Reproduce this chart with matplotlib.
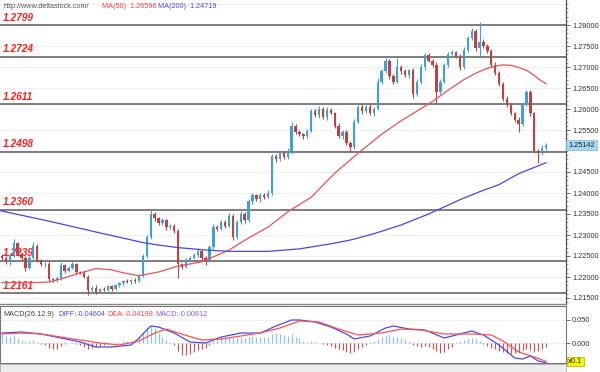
import matplotlib
matplotlib.use('Agg')
import matplotlib.pyplot as plt
import numpy as np
from matplotlib.ticker import FixedLocator, MultipleLocator, FormatStrFormatter
from matplotlib.transforms import blended_transform_factory
from matplotlib.patches import Rectangle

# ---------------- data ----------------
first_open = 1.2250
closes = [
    1.2245, 1.2235, 1.2250, 1.2280, 1.2255, 1.2245, 1.2222, 1.2245, 1.2275, 1.2240,
    1.2230, 1.2232, 1.2195, 1.2192, 1.2198, 1.2228, 1.2215, 1.2222, 1.2230, 1.2212,
    1.2210, 1.2200, 1.2168, 1.2175, 1.2165, 1.2172, 1.2170, 1.2178, 1.2172, 1.2180,
    1.2185, 1.2190, 1.2188, 1.2193, 1.2190, 1.2205, 1.2250, 1.2295, 1.2350, 1.2340,
    1.2328, 1.2335, 1.2318, 1.2322, 1.2310, 1.2230, 1.2225, 1.2240, 1.2245, 1.2252,
    1.2262, 1.2245, 1.2240, 1.2272, 1.2320, 1.2315, 1.2330, 1.2322, 1.2345, 1.2295,
    1.2330, 1.2350, 1.2335, 1.2380, 1.2395, 1.2385, 1.2395, 1.2390, 1.2400, 1.2488,
    1.2480, 1.2495, 1.2485, 1.2500, 1.2560, 1.2545, 1.2540, 1.2535, 1.2548, 1.2595,
    1.2585, 1.2600, 1.2580, 1.2598, 1.2590, 1.2560, 1.2535, 1.2545, 1.2520, 1.2510,
    1.2570, 1.2605, 1.2595, 1.2605, 1.2590, 1.2600, 1.2665, 1.2690, 1.2715, 1.2678,
    1.2665, 1.2700, 1.2690, 1.2680, 1.2692, 1.2635, 1.2665, 1.2700, 1.2728, 1.2715,
    1.2705, 1.2640, 1.2665, 1.2705, 1.2730, 1.2735, 1.2725, 1.2700, 1.2740, 1.2770,
    1.2785, 1.2745, 1.2760, 1.2750, 1.2738, 1.2705, 1.2685, 1.2660, 1.2625, 1.2610,
    1.2590, 1.2575, 1.2565, 1.2610, 1.2640, 1.2590, 1.2500, 1.2495, 1.2508, 1.25142,
]
up_wick = [  # pips
    4, 5, 6, 10, 3, 4, 5, 6, 8, 3,
    4, 3, 5, 3, 4, 8, 3, 5, 7, 4,
    3, 5, 4, 3, 5, 3, 4, 3, 4, 3,
    4, 3, 5, 3, 4, 3, 5, 6, 10, 5,
    4, 6, 3, 5, 4, 5, 3, 6, 4, 5,
    6, 3, 4, 5, 6, 4, 6, 5, 7, 6,
    5, 7, 4, 6, 5, 3, 5, 4, 6, 5,
    6, 5, 4, 6, 8, 5, 6, 4, 5, 6,
    5, 7, 4, 6, 5, 4, 6, 5, 4, 5,
    6, 5, 7, 4, 6, 5, 8, 6, 7, 5,
    6, 22, 5, 6, 4, 5, 7, 6, 5, 6,
    5, 6, 7, 5, 6, 5, 4, 6, 7, 5,
    8, 6, 47, 6, 5, 4, 6, 5, 4, 5,
    5, 4, 6, 4, 5, 6, 4, 5, 6, 5,
]
dn_wick = [
    5, 4, 6, 3, 5, 4, 7, 4, 3, 5,
    4, 6, 5, 4, 3, 5, 6, 4, 3, 5,
    4, 3, 11, 4, 5, 3, 4, 3, 5, 4,
    3, 4, 3, 5, 4, 3, 5, 4, 5, 6,
    5, 4, 6, 3, 5, 32, 6, 4, 5, 3,
    4, 5, 12, 4, 5, 6, 4, 5, 3, 6,
    5, 4, 6, 3, 5, 4, 6, 5, 3, 5,
    6, 4, 5, 3, 6, 5, 4, 6, 5, 3,
    5, 6, 4, 5, 3, 5, 4, 6, 5, 13,
    5, 4, 6, 5, 4, 6, 3, 5, 4, 6,
    5, 4, 6, 3, 5, 9, 4, 5, 6, 4,
    5, 26, 5, 4, 6, 5, 4, 6, 5, 4,
    5, 6, 24, 4, 5, 6, 4, 5, 6, 5,
    4, 6, 20, 5, 4, 6, 5, 24, 4, 5,
]

ma50_idx = [0, 7, 12, 16, 20, 24, 28, 31, 35, 40, 45, 51, 54, 58, 63, 68, 73, 79, 85, 91,
            97, 102, 106, 110, 114, 118, 121, 124, 126, 128, 130, 132, 134, 136, 137, 139]
ma50_val = [1.2187, 1.2186, 1.2188, 1.2198, 1.2210, 1.2220, 1.2217, 1.2210, 1.2203, 1.2212,
            1.2226, 1.2236, 1.2248, 1.2264, 1.2293, 1.2319, 1.2355, 1.2390, 1.2447, 1.2495,
            1.2540, 1.2572, 1.2595, 1.2618, 1.2645, 1.2670, 1.2685, 1.2697, 1.2702, 1.2705,
            1.2704, 1.2699, 1.2692, 1.2680, 1.2672, 1.2660]
ma200_idx = [-0.5, 12, 25, 36, 40, 45, 51, 58, 68, 76, 84, 89, 95, 102, 109, 117, 122,
             127, 132, 136, 139]
ma200_val = [1.2358, 1.2333, 1.2305, 1.2282, 1.2276, 1.2270, 1.2265, 1.2261, 1.2261, 1.2267,
             1.2279, 1.2288, 1.2303, 1.2324, 1.2350, 1.2384, 1.2403, 1.2420, 1.2446, 1.2461,
             1.2472]

diff_idx = [0, 5, 10, 15, 20, 24, 28, 33, 35, 38, 40, 44, 48, 52, 56, 61, 66, 70, 74, 76,
            80, 84, 88, 90, 94, 98, 100, 104, 108, 113, 116, 120, 123, 127, 131, 133, 135, 137, 139]
diff_val = [0.0217, 0.0239, 0.0196, 0.0109, 0.0022, -0.0087, -0.0087, -0.0043, 0.0109, 0.0370,
            0.0348, 0.0217, 0.0022, 0.0000, 0.0130, 0.0217, 0.0217, 0.0370, 0.0500, 0.0500,
            0.0457, 0.0348, 0.0196, 0.0087, 0.0152, 0.0326, 0.0370, 0.0304, 0.0283, 0.0109,
            0.0174, 0.0261, 0.0174, -0.0043, -0.0326, -0.0348, -0.0283, -0.0391, -0.0430]
dea_idx = [0, 5, 10, 15, 20, 25, 30, 35, 39, 42, 45, 51, 56, 61, 66, 71, 76, 81, 86, 91,
           97, 102, 107, 113, 120, 125, 128, 132, 136, 139]
dea_val = [0.0196, 0.0217, 0.0196, 0.0130, 0.0065, 0.0000, -0.0043, 0.0043, 0.0217, 0.0304,
           0.0217, 0.0065, 0.0087, 0.0152, 0.0217, 0.0326, 0.0478, 0.0457, 0.0304, 0.0174,
           0.0217, 0.0304, 0.0283, 0.0196, 0.0196, 0.0174, 0.0043, -0.0196, -0.0304, -0.0400]
macd_hist = [
    0.020, 0.015, 0.012, 0.018, 0.010, 0.006, 0.003, 0.004, 0.006, 0.002,
    -0.002, -0.004, -0.010, -0.014, -0.012, -0.006, -0.002, 0.001, 0.002, -0.002,
    -0.004, -0.008, -0.012, -0.010, -0.008, -0.006, -0.004, -0.003, 0.001, 0.002,
    0.003, 0.004, 0.005, 0.005, 0.006, 0.012, 0.024, 0.034, 0.040, 0.032,
    0.022, 0.012, 0.006, 0.002, -0.004, -0.018, -0.026, -0.027, -0.024, -0.020,
    -0.015, -0.012, -0.010, -0.004, 0.006, 0.010, 0.012, 0.012, 0.014, 0.010,
    0.010, 0.012, 0.010, 0.014, 0.016, 0.014, 0.013, 0.012, 0.012, 0.020,
    0.022, 0.020, 0.018, 0.016, 0.020, 0.014, 0.010, 0.004, 0.003, 0.004,
    0.002, 0.000, -0.002, -0.004, -0.006, -0.010, -0.014, -0.016, -0.020, -0.022,
    -0.020, -0.012, -0.008, -0.004, 0.002, 0.004, 0.008, 0.012, 0.016, 0.017,
    0.014, 0.013, 0.010, 0.008, 0.004, -0.004, -0.006, -0.008, -0.006, -0.008,
    -0.012, -0.018, -0.022, -0.020, -0.014, -0.008, 0.002, 0.004, 0.006, 0.010,
    0.011, 0.008, 0.004, -0.002, -0.006, -0.010, -0.014, -0.018, -0.020, -0.022,
    -0.024, -0.022, -0.020, -0.016, -0.014, -0.016, -0.020, -0.018, -0.012, -0.008,
]

levels = [1.2799, 1.2724, 1.2611, 1.2498, 1.2360, 1.2239, 1.2161]
level_labels = ["1.2799", "1.2724", "1.2611", "1.2498", "1.2360", "1.2239", "1.2161"]
price_ticks = [1.215, 1.220, 1.225, 1.230, 1.235, 1.240, 1.245, 1.255, 1.260, 1.265,
               1.270, 1.275, 1.280]
last_price = 1.25142
macd_ticks = [0.0, 0.05]
header_url = "http://www.deltastock.com/"
ma50_text = "MA(50)  1.26596"
ma200_text = "MA(200)  1.24719"
macd_texts = ["MACD(26.12.9)", "DIFF:-0.04604", "DEA:-0.04198", "MACD:-0.00812"]

# ---------------- figure ----------------
W, H = 600, 372
fig = plt.figure(figsize=(6, 3.72), dpi=100)
fig.patch.set_facecolor('white')
plt.rcParams['font.family'] = ['Liberation Sans', 'DejaVu Sans']

def fx(px):
    return px / W

def fy(py):
    return 1 - py / H

x_lo = -0.511
x_hi = x_lo + 566 / 3.914

ax = fig.add_axes([0, fy(304), fx(566), fy(0) - fy(304)])
ax.set_xlim(x_lo, x_hi)
ax.set_ylim(1.28 - 279 / 4200, 1.28 + 25 / 4200)
ax.set_facecolor('white')

# light grid
for t in np.arange(1.215, 1.2851, 0.005):
    ax.axhline(t, color='#efefef', lw=0.8, zorder=0)

# levels
for lv, lab in zip(levels, level_labels):
    ax.axhline(lv, color='#5a5a5a', lw=1.1, zorder=1)
    ax.text(0.25, lv + 2.5 / 4200, lab, color='#ff2020', fontsize=7.3,
            fontweight='bold', fontstyle='italic', va='bottom', ha='left', zorder=1)

# candles
n = len(closes)
idx = np.arange(n)
opens = np.array([first_open] + closes[:-1])
cl = np.array(closes)
hi = np.maximum(opens, cl) + np.array(up_wick) * 1e-4
lo = np.minimum(opens, cl) - np.array(dn_wick) * 1e-4
bull = cl >= opens
cols = np.where(bull, '#3f9fd8', '#c0413f')
ax.vlines(idx, lo, hi, colors=cols, lw=0.8, zorder=3)
body_h = np.maximum(np.abs(cl - opens), 0.00015)
ax.bar(idx, body_h, bottom=np.minimum(opens, cl), width=0.6, color=cols,
       linewidth=0, zorder=4)

# moving averages
ax.plot(ma50_idx, ma50_val, color='#f05050', lw=0.9, zorder=5)
ax.plot(ma200_idx, ma200_val, color='#4646ee', lw=0.9, zorder=5)

# axis styling
ax.yaxis.tick_right()
ax.yaxis.set_major_locator(FixedLocator(price_ticks))
ax.yaxis.set_major_formatter(FormatStrFormatter('%.5f'))
ax.yaxis.set_minor_locator(MultipleLocator(0.001))
ax.tick_params(axis='y', which='major', labelsize=5.3, colors='#555555',
               labelcolor='#333333', length=3, width=0.6, pad=1.5)
ax.tick_params(axis='y', which='minor', length=1.5, width=0.5, colors='#777777')
ax.set_xticks([])
for s in ['top', 'left']:
    ax.spines[s].set_visible(False)
ax.spines['right'].set_color('#555555')
ax.spines['right'].set_linewidth(0.9)
ax.spines['bottom'].set_color('#888888')
ax.spines['bottom'].set_linewidth(1.0)

trans = blended_transform_factory(ax.transAxes, ax.transData)
ax.text(1.004, last_price, f"{last_price:.5f}", transform=trans, fontsize=5.3,
        color='#222222', va='center', ha='left',
        bbox=dict(boxstyle='square,pad=0.25', fc='#a6d8f2', ec='#7ab8dc', lw=0.5),
        clip_on=False)

# header
fig.text(fx(3), fy(6), header_url, fontsize=5.2, color='#555555', va='center')
fig.text(fx(102), fy(6), ma50_text, fontsize=5.2, color='#f04040', va='center')
fig.text(fx(158), fy(6), ma200_text, fontsize=5.2, color='#4848f0', va='center')

# ---------------- MACD panel ----------------
ax2 = fig.add_axes([0, fy(363), fx(566), fy(306) - fy(363)])
ax2.set_xlim(x_lo, x_hi)
ax2.set_ylim(-20 / 23 * 0.05, 37 / 23 * 0.05)
ax2.set_facecolor('white')
ax2.axhline(0.05, color='#f0f0f0', lw=0.8, zorder=0)
ax2.axhline(0.0, color='#eeeeee', lw=0.8, zorder=0)
h = np.array(macd_hist)
hcols = np.where(h >= 0, '#88c2e6', '#c05a5a')
ax2.vlines(idx, 0, h, colors=hcols, lw=0.9, zorder=2)
ax2.plot(diff_idx, diff_val, color='#4a4af0', lw=0.9, zorder=3)
ax2.plot(dea_idx, dea_val, color='#ff5050', lw=0.9, zorder=4)
ax2.yaxis.tick_right()
ax2.yaxis.set_major_locator(FixedLocator(macd_ticks))
ax2.yaxis.set_major_formatter(FormatStrFormatter('%.3f'))
ax2.tick_params(axis='y', labelsize=5.3, colors='#555555', labelcolor='#333333',
                length=3, width=0.6, pad=1.5)
ax2.set_xticks([])
for s in ['top', 'left', 'bottom', 'right']:
    ax2.spines[s].set_color('#777777')
    ax2.spines[s].set_linewidth(0.8)
trans2 = blended_transform_factory(ax2.transAxes, ax2.transData)
ax2.text(1.004, -0.0395, "x0.1", transform=trans2, fontsize=5.5, color='#222222',
         va='center', ha='left',
         bbox=dict(boxstyle='square,pad=0.15', fc='#f4f400', ec='#999900', lw=0.4),
         clip_on=False)

mx = [3, 58, 107, 155]
mc = ['#444444', '#4a4af0', '#ff4040', '#8a5cf0']
for x0, t, c in zip(mx, macd_texts, mc):
    fig.text(fx(x0), fy(314), t, fontsize=5.2, color=c, va='center')

# bottom strip
fig.patches.append(Rectangle((0, 0), fx(566), fy(364), transform=fig.transFigure,
                             fc='#ececec', ec='#999999', lw=0.5, zorder=0))

fig.savefig('out.png', dpi=100)
